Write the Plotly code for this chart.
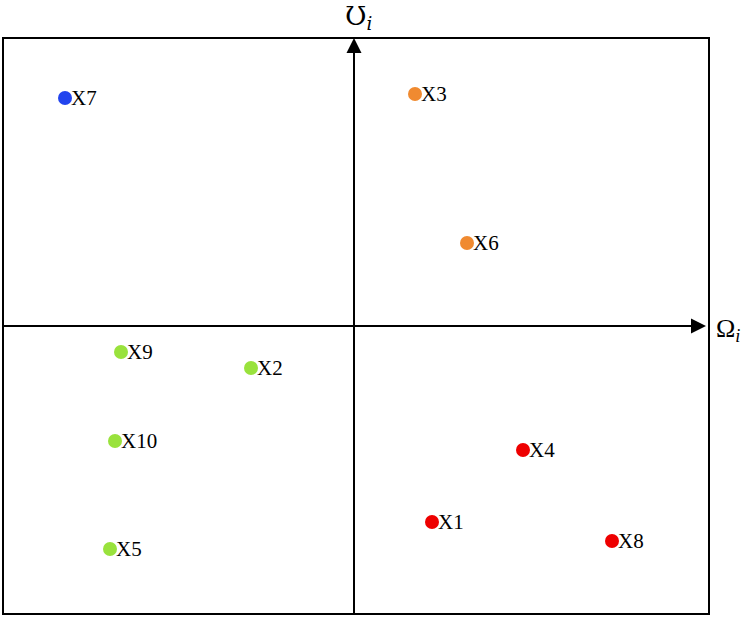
import plotly.graph_objects as go

labels = ["X7", "X3", "X6", "X2", "X9", "X10", "X5", "X4", "X1", "X8"]
xs = [-289, 61, 113, -103, -233, -239, -244, 169, 78, 258]
ys = [228, 232, 83, -42, -26, -115, -223, -124, -196, -215]
colors = ["#2244EE", "#F08A30", "#F08A30", "#99E23C", "#99E23C", "#99E23C", "#99E23C",
          "#EE0000", "#EE0000", "#EE0000"]

XR = [-350, 354]
YR = [-287, 287]
SERIF = "Liberation Serif"

fig = go.Figure()
fig.add_trace(go.Scatter(
    x=xs, y=ys, mode="markers",
    marker=dict(size=14, color=colors),
    hoverinfo="skip", showlegend=False, cliponaxis=False))

for lx, ly, lt in zip(xs, ys, labels):
    fig.add_annotation(x=lx, y=ly, xref="x", yref="y", text=lt, showarrow=False,
                       xanchor="left", yanchor="middle", xshift=4, yshift=0,
                       font=dict(family=SERIF, size=21, color="black"))

# axis lines
fig.add_shape(type="line", x0=0, x1=0, y0=YR[0], y1=YR[1] - 8, xref="x", yref="y",
              line=dict(color="black", width=2))
fig.add_shape(type="line", x0=XR[0], x1=XR[1] - 10, y0=0, y1=0, xref="x", yref="y",
              line=dict(color="black", width=2))
# arrowheads
fig.add_annotation(x=0, y=YR[1] + 1, ax=0, ay=YR[1] - 20, xref="x", yref="y", axref="x", ayref="y",
                   showarrow=True, arrowhead=2, arrowsize=1.5, arrowwidth=2, arrowcolor="black", text="")
fig.add_annotation(x=XR[1] - 2, y=0, ax=XR[1] - 25, ay=0, xref="x", yref="y", axref="x", ayref="y",
                   showarrow=True, arrowhead=2, arrowsize=1.5, arrowwidth=2, arrowcolor="black", text="")

fig.add_annotation(x=0, y=YR[1], xref="x", yref="y", yshift=22, xshift=4, showarrow=False,
                   text="Ʊ<sub><i>i</i></sub>", font=dict(family="DejaVu Serif", size=26, color="black"))
fig.add_annotation(x=XR[1], y=0, xref="x", yref="y", xanchor="left", xshift=6, yshift=-4, showarrow=False,
                   text="Ω<sub><i>i</i></sub>", font=dict(family=SERIF, size=26, color="black"))

fig.update_xaxes(range=XR, showgrid=False, zeroline=False, showticklabels=False, ticks="",
                 showline=True, linecolor="black", linewidth=1.5, mirror=True)
fig.update_yaxes(range=YR, showgrid=False, zeroline=False, showticklabels=False, ticks="",
                 showline=True, linecolor="black", linewidth=1.5, mirror=True)
fig.update_layout(width=746, height=617, margin=dict(l=4, r=38, t=39, b=4),
                  plot_bgcolor="white", paper_bgcolor="white")
fig.write_html("out.html")
